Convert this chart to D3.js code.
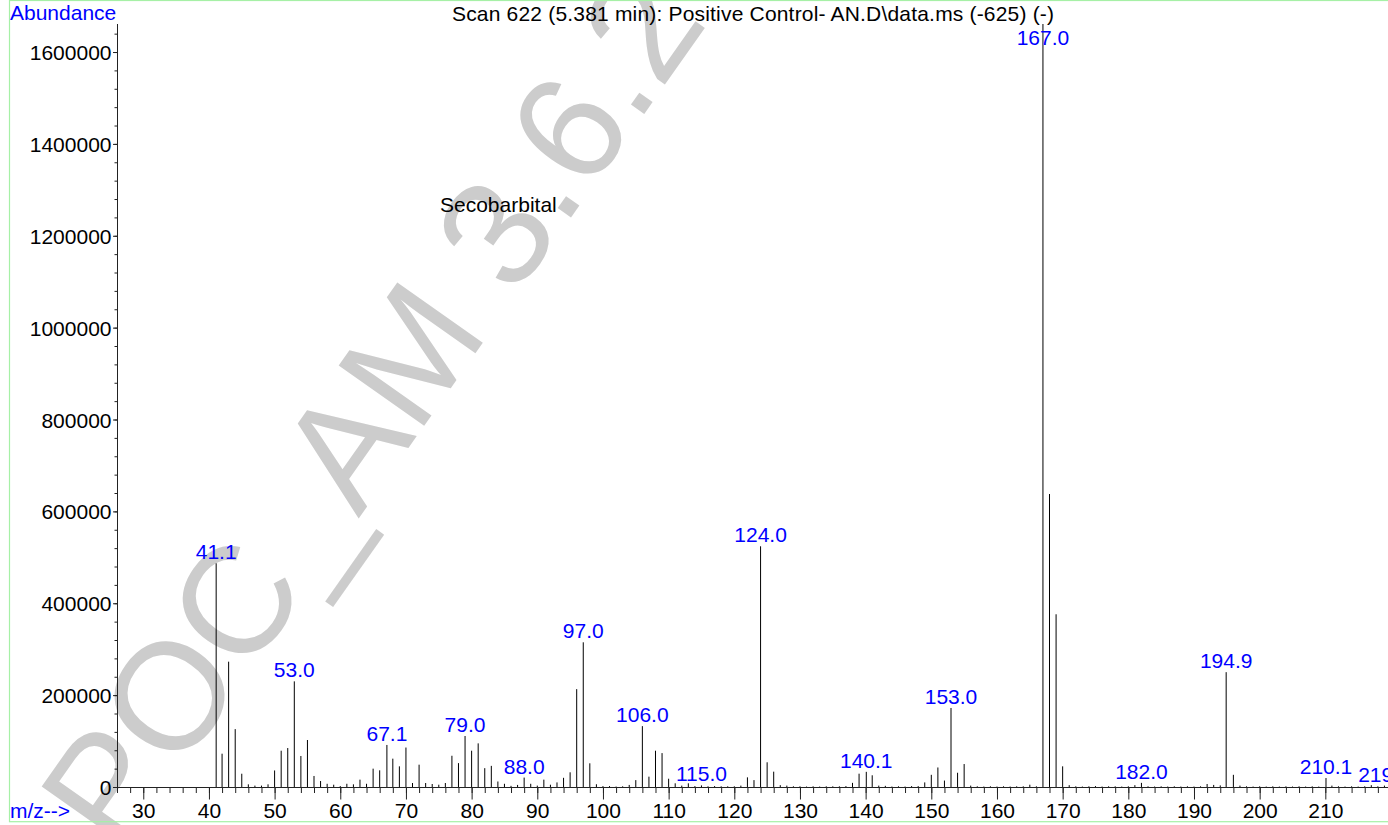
<!DOCTYPE html>
<html>
<head>
<meta charset="utf-8">
<script src="https://cdn.jsdelivr.net/npm/d3@7"></script>
<style>
  html, body { margin: 0; padding: 0; background: #fff; overflow: hidden; }
  svg { display: block; font-family: "Liberation Sans", Arial, Helvetica, sans-serif; }
</style>
</head>
<body>
<svg id="chart" width="1388" height="825"></svg>
<script>
// ---- data ----
const title = "Scan 622 (5.381 min): Positive Control- AN.D\\data.ms (-625) (-)";
const compound = "Secobarbital";
const watermark = "POC_AM 3.6.2";
const yLabel = "Abundance";
const xLabel = "m/z-->";

const mz = [
  41.1, 42, 43, 44, 45, 46, 47, 48, 49, 50,
  51, 52, 53.0, 54, 55, 56, 57, 58, 59, 60,
  61, 62, 63, 64, 65, 66, 67.1, 68, 69, 70,
  71, 72, 73, 74, 75, 76, 77, 78, 79.0, 80,
  81, 82, 83, 84, 85, 86, 87, 88.0, 89, 90,
  91, 92, 93, 94, 95, 96, 97.0, 98, 99, 100,
  101, 102, 103, 104, 105, 106.0, 107, 108, 109, 110,
  111, 112, 113, 114, 115.0, 116, 117, 118, 119, 120,
  121, 122, 123, 124.0, 125, 126, 127, 128, 129, 130,
  131, 132, 133, 134, 135, 136, 137, 138, 139, 140.1,
  141, 142, 143, 144, 145, 146, 147, 148, 149, 150,
  151, 152, 153.0, 154, 155, 156, 157, 158, 159, 160,
  161, 162, 163, 164, 165, 166, 167.0, 168, 169, 170,
  171, 172, 173, 174, 175, 176, 177, 178, 179, 180,
  181, 182.0, 183, 184, 185, 186, 187, 188, 189, 190,
  191, 192, 193, 194, 194.9, 196, 197, 198, 199, 200,
  201, 202, 203, 204, 205, 206, 207, 208, 209, 210.1,
  211, 212, 213, 214, 215, 216, 217, 218, 219.0
];
const abundance = [
  487000, 72500, 272800, 126000, 28900, 5800, 3000, 3000, 5800, 36000,
  79000, 84800, 230000, 67500, 102300, 24000, 13000, 7000, 5000, 2000,
  7000, 5800, 16000, 7000, 39900, 36300, 91500, 61700, 45000, 85900,
  8700, 48600, 8700, 6500, 5000, 8700, 68000, 52000, 111000, 79000,
  95000, 41000, 46000, 12000, 7000, 2500, 4500, 20500, 7000, 3000,
  16000, 5000, 10000, 20000, 32000, 213000, 315000, 51600, 6000, 2000,
  2000, 1000, 1500, 4500, 15000, 132500, 22500, 79000, 73800, 18000,
  8000, 3000, 8000, 2000, 3500, 1500, 2000, 1500, 1500, 1500,
  3000, 21000, 15000, 524000, 53800, 33400, 4000, 3000, 1500, 1500,
  1000, 1500, 1000, 1500, 1500, 1500, 2000, 9000, 29000, 33000,
  25500, 3000, 2500, 1000, 1500, 1000, 2000, 2000, 10000, 26500,
  42500, 14000, 172000, 31000, 50000, 3000, 1500, 1000, 1500, 1000,
  1500, 1000, 1500, 1500, 5000, 1500, 1661000, 637800, 376000, 45000,
  4000, 1500, 1000, 1500, 2000, 1000, 1500, 1500, 1000, 1500,
  4000, 9000, 1500, 1000, 1500, 1000, 1500, 1000, 1500, 1000,
  1500, 6500, 4500, 3500, 250000, 26500, 3000, 1500, 1000, 1500,
  1000, 1500, 1000, 1500, 1000, 1500, 1000, 1500, 1000, 19500,
  3000, 1500, 1000, 1500, 1000, 1500, 4000, 1500, 3000
];
const labeledPeaks = [41.1, 53.0, 67.1, 79.0, 88.0, 97.0, 106.0, 115.0, 124.0, 140.1,
                      153.0, 167.0, 182.0, 194.9, 210.1, 219.0];

const yTickValues = [0, 200000, 400000, 600000, 800000, 1000000, 1200000, 1400000, 1600000];
const yMinorTickValues = d3.range(0, 1660001, 40000);
const xTickValues = d3.range(30, 211, 10);
const xMinorTickValues = d3.range(26, 219, 2);

const xDomain = [26, 222];
const yDomain = [0, 1661000];

// ---- layout ----
const svg = d3.select("#chart");
const W = 1388, H = 825;
const plotLeft = 117, plotBottom = 787, plotTop = 24;
const pxPerUnit = 6.567;
const FONT = 21;

const x = d3.scaleLinear().domain(xDomain).range([plotLeft, plotLeft + (xDomain[1] - xDomain[0]) * pxPerUnit]);
const y = d3.scaleLinear().domain(yDomain).range([plotBottom, plotTop]);

// watermark (behind everything)
svg.append("text")
  .attr("transform", "translate(120,857) rotate(-54.8)")
  .attr("font-size", 152)
  .attr("fill", "#cccccc")
  .text(watermark);

// green frame
svg.append("rect")
  .attr("x", 9.5).attr("y", 0.5)
  .attr("width", W + 20).attr("height", 821.2)
  .attr("fill", "none")
  .attr("stroke", "#a6f0a6")
  .attr("stroke-width", 1.2);

// y axis: minor ticks
svg.append("g")
  .attr("transform", `translate(${plotLeft},0)`)
  .call(d3.axisLeft(y).tickValues(yMinorTickValues).tickSize(2.5).tickSizeOuter(0).tickFormat(""))
  .call(g => g.select(".domain").remove())
  .call(g => g.selectAll("line").attr("stroke", "#222"));

// y axis: major
const yAxisG = svg.append("g")
  .attr("transform", `translate(${plotLeft},0)`)
  .call(d3.axisLeft(y).tickValues(yTickValues).tickSize(4).tickSizeOuter(0).tickPadding(1.5).tickFormat(d3.format("d")));
yAxisG.select(".domain").attr("stroke", "#222").attr("d", `M0.5,${plotTop}V${plotBottom}`);
yAxisG.selectAll("line").attr("stroke", "#222");
yAxisG.selectAll("text").attr("font-size", FONT).attr("font-family", null).attr("fill", "#000").attr("dy", "0.36em");

// x axis: minor ticks
svg.append("g")
  .attr("transform", `translate(0,${plotBottom})`)
  .call(d3.axisBottom(x).tickValues(xMinorTickValues).tickSize(6).tickSizeOuter(0).tickFormat(""))
  .call(g => g.select(".domain").remove())
  .call(g => g.selectAll("line").attr("stroke", "#222"));

// x axis: major
const xAxisG = svg.append("g")
  .attr("transform", `translate(0,${plotBottom})`)
  .call(d3.axisBottom(x).tickValues(xTickValues).tickSize(12.5).tickSizeOuter(0).tickFormat(d3.format("d")));
xAxisG.select(".domain").attr("stroke", "#222");
xAxisG.selectAll("line").attr("stroke", "#222");
xAxisG.selectAll("text").attr("font-size", FONT).attr("font-family", null).attr("fill", "#000")
  .attr("dy", null).attr("y", 30.5);

// peaks
svg.append("g")
  .selectAll("line")
  .data(mz.map((m, i) => ({ m, v: abundance[i] })))
  .join("line")
  .attr("x1", d => x(d.m)).attr("x2", d => x(d.m))
  .attr("y1", y(0)).attr("y2", d => y(Math.min(d.v, yDomain[1])))
  .attr("stroke", "#000")
  .attr("stroke-width", 1);

// peak labels
svg.append("g")
  .selectAll("text")
  .data(mz.map((m, i) => ({ m, v: abundance[i] })).filter(d => labeledPeaks.includes(d.m)))
  .join("text")
  .attr("x", d => x(d.m))
  .attr("y", d => Math.max(y(Math.min(d.v, yDomain[1])) - 4, plotTop + 21))
  .attr("text-anchor", "middle")
  .attr("font-size", FONT)
  .attr("fill", "#0000ff")
  .text(d => d.m.toFixed(1));

// axis titles and texts
svg.append("text").attr("x", 10).attr("y", 19.5).attr("font-size", FONT).attr("fill", "#0000ff").text(yLabel);
svg.append("text").attr("x", 10).attr("y", 817.5).attr("font-size", FONT).attr("fill", "#0000ff").text(xLabel);
svg.append("text").attr("x", 753).attr("y", 20.5).attr("text-anchor", "middle").attr("font-size", FONT)
  .attr("textLength", 602).attr("lengthAdjust", "spacing").attr("fill", "#000").text(title);
svg.append("text").attr("x", 440).attr("y", 211.5).attr("font-size", FONT).attr("fill", "#000").text(compound);
</script>
</body>
</html>
